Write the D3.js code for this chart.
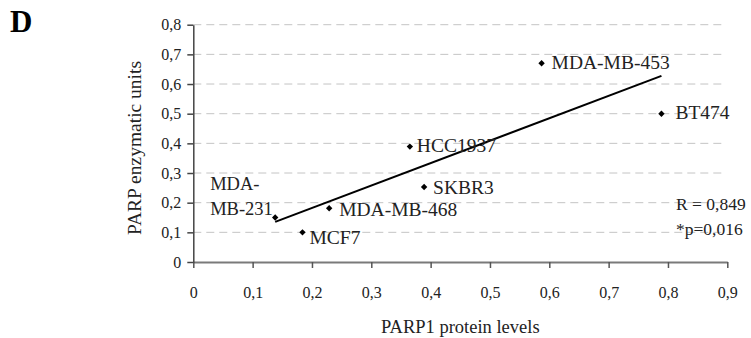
<!DOCTYPE html>
<html>
<head>
<meta charset="utf-8">
<script src="https://cdn.jsdelivr.net/npm/d3@7"></script>
<style>
  html, body { margin: 0; padding: 0; background: #fff; }
</style>
</head>
<body>
<div id="chart"></div>
<script>
// cell lines, PARP1 protein level (x) vs PARP enzymatic units (y)
const cellLines = ['MDA-MB-231', 'MCF7', 'MDA-MB-468', 'SKBR3', 'HCC1937', 'MDA-MB-453', 'BT474'];
const proteinLevels = [0.138, 0.184, 0.229, 0.389, 0.365, 0.587, 0.789];
const enzymaticUnits = [0.150, 0.100, 0.181, 0.253, 0.389, 0.670, 0.500];
const xTicks = [0, 0.1, 0.2, 0.3, 0.4, 0.5, 0.6, 0.7, 0.8, 0.9];
const yTicks = [0, 0.1, 0.2, 0.3, 0.4, 0.5, 0.6, 0.7, 0.8];
const statsLines = ['R = 0,849', '*p=0,016'];

// label placement relative to each point (px)
const labelOffsets = [[-65, -28], [7, 12], [10, 8], [9, 7], [7, 5], [10, 6], [14, 5]];

const FONT = 'Liberation Serif, Times New Roman, DejaVu Serif, serif';

const width = 751, height = 338;
const svg = d3.select('#chart').append('svg').attr('width', width).attr('height', height);

const x = d3.scaleLinear().domain([0, 0.9]).range([193.3, 727.3]);
const y = d3.scaleLinear().domain([0, 0.8]).range([262, 24.7]);

const locale = d3.formatLocale({ decimal: ',', thousands: '.', grouping: [3], currency: ['', ''] });
const fmt = (d) => d === 0 ? '0' : locale.format('.1f')(d);

// dashed grid
svg.append('g')
  .selectAll('line')
  .data(yTicks.filter((d) => d > 0))
  .enter()
  .append('line')
  .attr('x1', x(0))
  .attr('x2', x(0.895))
  .attr('y1', (d) => y(d))
  .attr('y2', (d) => y(d))
  .attr('stroke', '#c4c4c4')
  .attr('stroke-width', 1)
  .attr('stroke-dasharray', '8,5');

// axes
const xAxis = svg.append('g')
  .attr('transform', `translate(0,${y(0)})`)
  .call(d3.axisBottom(x).tickValues(xTicks).tickSize(6).tickSizeOuter(0).tickFormat(fmt));
xAxis.select('.domain').attr('stroke', '#7a7a7a').attr('stroke-width', 2);
xAxis.selectAll('.tick line').attr('stroke', '#555').attr('stroke-width', 1.5);
xAxis.selectAll('.tick text')
  .attr('y', 36).attr('dy', null)
  .style('font-family', FONT).style('font-size', '16px').attr('fill', '#222');

const yAxis = svg.append('g')
  .attr('transform', `translate(${x(0)},0)`)
  .call(d3.axisLeft(y).tickValues(yTicks).tickSize(6).tickSizeOuter(0).tickFormat(fmt));
yAxis.select('.domain').attr('stroke', '#444').attr('stroke-width', 1.5);
yAxis.selectAll('.tick line').attr('stroke', '#444').attr('stroke-width', 1.5);
yAxis.selectAll('.tick text')
  .attr('x', -12)
  .style('font-family', FONT).style('font-size', '16px').attr('fill', '#222');

// least squares trend line between the extreme x values
const n = proteinLevels.length;
const mx = d3.mean(proteinLevels), my = d3.mean(enzymaticUnits);
let sxy = 0, sxx = 0;
for (let i = 0; i < n; i++) {
  sxy += (proteinLevels[i] - mx) * (enzymaticUnits[i] - my);
  sxx += (proteinLevels[i] - mx) ** 2;
}
const slope = sxy / sxx, icpt = my - slope * mx;
const ext = d3.extent(proteinLevels);
svg.append('path')
  .datum(ext)
  .attr('fill', 'none')
  .attr('stroke', '#000')
  .attr('stroke-width', 2)
  .attr('d', d3.line().x((d) => x(d)).y((d) => y(icpt + slope * d)));

// points
svg.selectAll('path.pt')
  .data(cellLines)
  .enter()
  .append('path')
  .attr('class', 'pt')
  .attr('d', d3.symbol(d3.symbolDiamond2, 26))
  .attr('transform', (_, i) => `translate(${x(proteinLevels[i])},${y(enzymaticUnits[i])})`)
  .attr('fill', '#000');

// point labels
const labels = svg.append('g').attr('fill', '#222');
cellLines.forEach((name, i) => {
  const px = x(proteinLevels[i]) + labelOffsets[i][0];
  const py = y(enzymaticUnits[i]) + labelOffsets[i][1];
  const t = labels.append('text').attr('x', px).attr('y', py)
    .style('font-family', FONT).style('font-size', name === 'MDA-MB-231' ? '18.5px' : '19.5px');
  if (name === 'MDA-MB-231') {
    t.append('tspan').attr('x', px).text('MDA-');
    t.append('tspan').attr('x', px).attr('dy', 25.5).text('MB-231');
  } else {
    t.text(name);
  }
});

// stats
svg.append('g')
  .selectAll('text')
  .data(statsLines)
  .enter()
  .append('text')
  .attr('x', 676)
  .attr('y', (_, i) => 210 + i * 24.5)
  .style('font-family', FONT).style('font-size', '17.5px')
  .attr('fill', '#222')
  .text((d) => d);

// axis titles
svg.append('text')
  .attr('x', (x(0) + x(0.9)) / 2)
  .attr('y', 332.5)
  .attr('text-anchor', 'middle')
  .style('font-family', FONT).style('font-size', '18.5px')
  .attr('fill', '#222')
  .text('PARP1 protein levels');

svg.append('text')
  .attr('transform', 'translate(141,148) rotate(-90)')
  .attr('text-anchor', 'middle')
  .style('font-family', FONT).style('font-size', '19.5px')
  .attr('fill', '#222')
  .text('PARP enzymatic units');

// panel letter
svg.append('text')
  .attr('x', 10)
  .attr('y', 32)
  .style('font-family', FONT).style('font-size', '31px')
  .attr('font-weight', 'bold')
  .attr('fill', '#000')
  .text('D');
</script>
</body>
</html>
